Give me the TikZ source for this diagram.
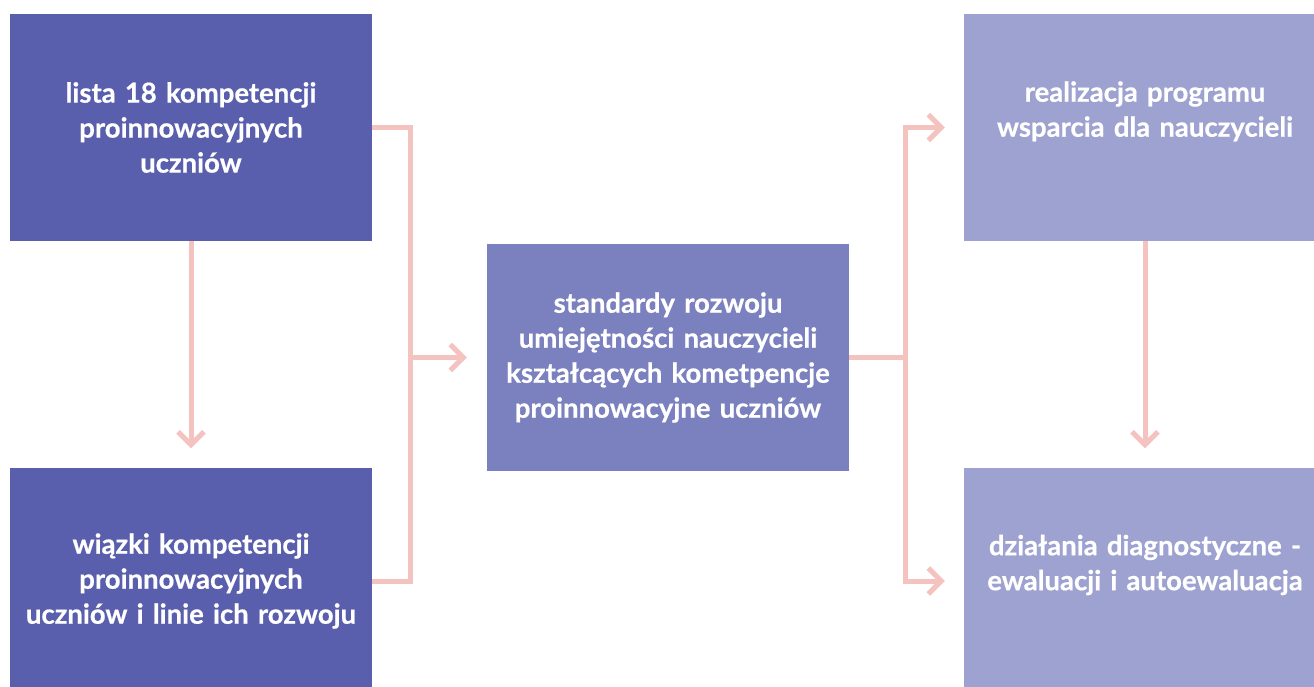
\documentclass[tikz,border=0pt]{standalone}
\usepackage{fontspec}
\setmainfont{Lato}[BoldFeatures={FakeBold=0.6}]
\usepackage{xcolor}
\usetikzlibrary{arrows.meta}
\definecolor{deepblue}{HTML}{5A5FAD}
\definecolor{midblue}{HTML}{7B80BE}
\definecolor{paleblue}{HTML}{9EA2D0}
\definecolor{rose}{HTML}{F4C3BF}
\begin{document}
\begin{tikzpicture}[x=1pt, y=-1pt,
  every node/.style={inner sep=0pt, minimum width=362pt, minimum height=227pt,
    text width=350pt, align=center, text=white,
    font=\bfseries\fontsize{27.5}{35}\selectfont},
  deep/.style={fill=deepblue},
  mid/.style={fill=midblue},
  pale/.style={fill=paleblue, text depth=72pt},
  link/.style={draw=rose, line width=5pt},
  >={Straight Barb[length=13pt, width=26pt]}
]
\useasboundingbox (0,0) rectangle (1314,687);
\node[deep] (lista) at (191,127.5) {lista 18 kompetencji\\ proinnowacyjnych\\ uczniów};
\node[deep] (wiazki) at (191,581) {wiązki kompetencji\\ proinnowacyjnych\\ uczniów i linie ich rozwoju};
\node[mid] (standardy) at (668,357.5) {standardy rozwoju\\ umiejętności nauczycieli\\ kształcących kometpencje\\ proinnowacyjne uczniów};
\node[pale] (program) at (1145,127.5) {realizacja programu\\ wsparcia dla nauczycieli};
\node[pale] (diagnoza) at (1145,581) {działania diagnostyczne -\\ ewaluacji i autoewaluacja};
\coordinate (jl) at (410,357.5);
\coordinate (jr) at (905,357.5);
\draw[link] (lista.east) -| (jl) |- (wiazki.east);
\draw[link, ->, shorten >=20pt] (jl) -- (standardy.west);
\draw[link] (standardy.east) -- (jr);
\draw[link, ->, shorten >=19pt] (jr) |- (program.west);
\draw[link, ->, shorten >=19pt] (jr) |- (diagnoza.west);
\draw[link, ->, shorten >=19pt] (lista.south) -- (wiazki.north);
\draw[link, ->, shorten >=19pt] (program.south) -- (diagnoza.north);
\end{tikzpicture}
\end{document}
